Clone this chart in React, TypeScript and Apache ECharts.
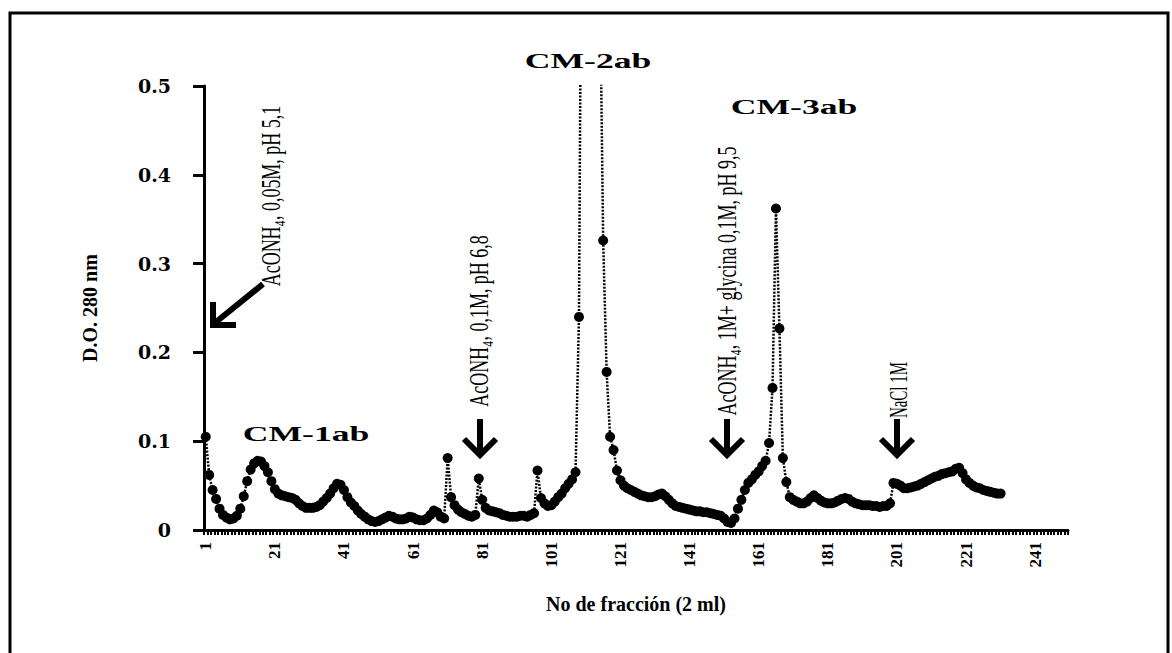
import React, { useEffect, useRef } from "react";
import * as echarts from "echarts";

// Fraction numbers on the category axis (1 .. 250)
const fractionCount = 250;
const fractions: string[] = Array.from({ length: fractionCount }, (_, i) => String(i + 1));
const xTickLabels = ["1", "21", "41", "61", "81", "101", "121", "141", "161", "181", "201", "221", "241"];
const yMin = 0;
const yMax = 0.5;
const yStep = 0.1;

// Absorbance (D.O. 280 nm) per fraction
const od001to050 = [
  0.105, 0.062, 0.045, 0.035, 0.024, 0.017, 0.014, 0.012, 0.013, 0.016,
  0.024, 0.038, 0.055, 0.068, 0.075, 0.078, 0.077, 0.072, 0.065, 0.055,
  0.046, 0.041, 0.039, 0.038, 0.037, 0.036, 0.034, 0.03, 0.027, 0.025,
  0.025, 0.025, 0.026, 0.028, 0.032, 0.036, 0.041, 0.047, 0.052, 0.051,
  0.045, 0.037, 0.031, 0.027, 0.022, 0.018, 0.015, 0.012, 0.01, 0.009,
];
const od051to100 = [
  0.01, 0.012, 0.014, 0.016, 0.015, 0.013, 0.012, 0.012, 0.013, 0.015,
  0.014, 0.012, 0.011, 0.011, 0.013, 0.017, 0.022, 0.02, 0.015, 0.013,
  0.081, 0.037, 0.028, 0.023, 0.02, 0.018, 0.016, 0.015, 0.017, 0.058,
  0.034, 0.025, 0.022, 0.021, 0.02, 0.019, 0.017, 0.016, 0.015, 0.015,
  0.015, 0.016, 0.016, 0.015, 0.017, 0.019, 0.067, 0.036, 0.03, 0.027,
];
const od101to150 = [
  0.028, 0.032, 0.037, 0.041, 0.047, 0.052, 0.057, 0.065, 0.24, 0.92,
  1.45, 1.62, 1.3, 0.88, 0.64, 0.326, 0.178, 0.105, 0.09, 0.067,
  0.056, 0.05, 0.047, 0.045, 0.043, 0.041, 0.039, 0.038, 0.037, 0.037,
  0.038, 0.04, 0.041, 0.038, 0.034, 0.03, 0.027, 0.026, 0.025, 0.024,
  0.023, 0.022, 0.021, 0.021, 0.02, 0.02, 0.019, 0.018, 0.017, 0.016,
];
const od151to200 = [
  0.013, 0.009, 0.008, 0.013, 0.024, 0.034, 0.045, 0.053, 0.057, 0.062,
  0.066, 0.072, 0.078, 0.098, 0.16, 0.362, 0.227, 0.081, 0.054, 0.037,
  0.034, 0.032, 0.03, 0.03, 0.032, 0.036, 0.039, 0.036, 0.033, 0.031,
  0.03, 0.03, 0.031, 0.033, 0.035, 0.036, 0.035, 0.032, 0.03, 0.029,
  0.028, 0.028, 0.028, 0.027, 0.027, 0.026, 0.027, 0.027, 0.03, 0.053,
];
const od201to231 = [
  0.052, 0.05, 0.047, 0.047, 0.048, 0.049, 0.05, 0.052, 0.054, 0.056,
  0.058, 0.06, 0.061, 0.063, 0.064, 0.065, 0.066, 0.069, 0.07, 0.064,
  0.057, 0.053, 0.05, 0.048, 0.047, 0.045, 0.044, 0.043, 0.042, 0.041,
  0.041,
];
const absorbance = [...od001to050, ...od051to100, ...od101to150, ...od151to200, ...od201to231];

const peakLabels = ["CM-1ab", "CM-2ab", "CM-3ab"];
const bufferLabels = [
  "AcONH₄, 0,05M, pH 5,1",
  "AcONH₄, 0,1M, pH 6,8",
  "AcONH₄, 1M+ glycina 0,1M, pH 9,5",
  "NaCl 1M",
];
const xTitle = "No de fracción (2 ml)";
const yTitle = "D.O. 280 nm";

const SERIF = "'Liberation Serif', 'Times New Roman', 'DejaVu Serif', serif";
const WIDE_SERIF = "'DejaVu Serif', 'Liberation Serif', serif";

function hText(text: string, x: number, y: number, size: number, sx: number) {
  return {
    type: "text",
    x,
    y,
    scaleX: sx,
    silent: true,
    style: {
      text,
      fontFamily: SERIF,
      fontWeight: "bold",
      fontSize: size,
      fill: "#000",
      align: "center",
      verticalAlign: "middle",
      textAlign: "center",
      textVerticalAlign: "middle",
    },
  };
}

function vText(text: string, x: number, y: number, size: number, sy: number) {
  return {
    type: "text",
    x,
    y,
    rotation: Math.PI / 2,
    scaleY: sy,
    silent: true,
    style: {
      text,
      fontFamily: SERIF,
      fontSize: size,
      fill: "#000",
      align: "center",
      verticalAlign: "middle",
      textAlign: "center",
      textVerticalAlign: "middle",
    },
  };
}

function arrow(shaft: number[][], head: number[][]) {
  return [
    {
      type: "polyline",
      silent: true,
      shape: { points: shaft },
      style: { stroke: "#000", lineWidth: 6, fill: null },
    },
    {
      type: "polyline",
      silent: true,
      shape: { points: head },
      style: { stroke: "#000", lineWidth: 6, fill: null, lineJoin: "miter" },
    },
  ];
}

export default function App() {
  const ref = useRef<HTMLDivElement>(null);

  useEffect(() => {
    if (!ref.current) return;
    const chart = echarts.init(ref.current, undefined, { renderer: "svg" });
    const option: any = {
      animation: false,
      backgroundColor: "#fff",
      grid: { left: 204, top: 86, width: 864, height: 444, containLabel: false },
      xAxis: {
        type: "category",
        data: fractions,
        boundaryGap: true,
        axisLine: { show: true, lineStyle: { color: "#000", width: 3 } },
        axisTick: { show: true, interval: 0, length: 5, lineStyle: { color: "#000", width: 2 } },
        axisLabel: {
          interval: (_i: number, v: string) => xTickLabels.includes(v),
          rotate: 90,
          margin: 12,
          fontFamily: SERIF,
          fontWeight: "bold",
          fontSize: 17,
          color: "#000",
        },
        splitLine: { show: false },
        name: xTitle,
        nameLocation: "middle",
        nameGap: 64,
        nameTextStyle: { fontFamily: SERIF, fontWeight: "bold", fontSize: 20, color: "#000" },
      },
      yAxis: {
        type: "value",
        min: yMin,
        max: yMax,
        interval: yStep,
        axisLine: { show: true, lineStyle: { color: "#000", width: 3 } },
        axisTick: { show: true, length: 11, lineStyle: { color: "#000", width: 3 } },
        axisLabel: {
          margin: 33,
          fontFamily: WIDE_SERIF,
          fontWeight: "bold",
          fontSize: 19,
          color: "#000",
        },
        splitLine: { show: false },
        name: yTitle,
        nameLocation: "middle",
        nameRotate: 90,
        nameGap: 104,
        nameTextStyle: { fontFamily: SERIF, fontWeight: "bold", fontSize: 20, color: "#000" },
      },
      series: [
        {
          type: "line",
          data: absorbance,
          symbol: "circle",
          symbolSize: 10,
          showAllSymbol: true,
          clip: true,
          silent: true,
          lineStyle: { color: "#000", width: 2.5, type: [2, 1.5] },
          itemStyle: { color: "#000" },
          emphasis: { disabled: true },
        },
      ],
      graphic: [
        {
          type: "rect",
          silent: true,
          shape: { x: 10, y: 13, width: 1158, height: 700 },
          style: { stroke: "#000", lineWidth: 3, fill: null },
        },
        hText(peakLabels[0], 306, 434, 22, 1.62),
        hText(peakLabels[1], 588, 61, 22, 1.62),
        hText(peakLabels[2], 794, 107, 22, 1.62),
        vText(bufferLabels[0], 271, 196, 18, 1.5),
        vText(bufferLabels[1], 479, 321, 18, 1.5),
        vText(bufferLabels[2], 727, 281, 18, 1.5),
        vText(bufferLabels[3], 898, 390, 15, 1.7),
        ...arrow([[263, 284], [216, 322]], [[213, 302], [213, 325], [236, 325]]),
        ...arrow([[480, 419], [480, 452]], [[464, 439], [480, 455], [496, 439]]),
        ...arrow([[727, 419], [727, 452]], [[711, 439], [727, 455], [743, 439]]),
        ...arrow([[897, 419], [897, 452]], [[881, 439], [897, 455], [913, 439]]),
      ],
    };
    chart.setOption(option);
    return () => chart.dispose();
  }, []);

  return (
    <div
      ref={ref}
      style={{ position: "absolute", left: 0, top: 0, width: 1172, height: 653 }}
    />
  );
}
